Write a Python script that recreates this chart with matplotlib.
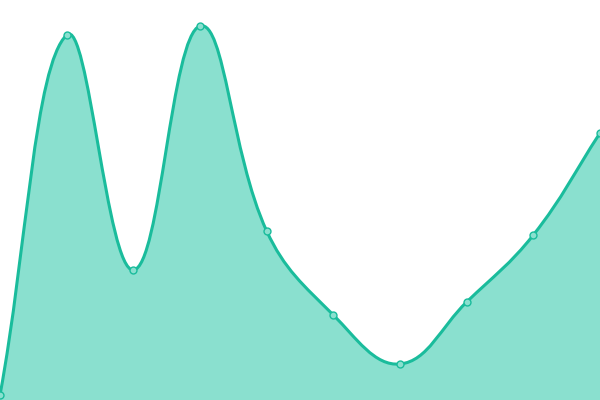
import matplotlib
matplotlib.use("Agg")
import matplotlib.pyplot as plt
from matplotlib.path import Path
from matplotlib.patches import PathPatch
import numpy as np

# values (chart units, 0..400)
labels = list(range(10))
values = [5, 365, 130, 374, 169, 85, 36, 98, 165, 267]

line_color = "#1abc9c"
fill_color = "#8ae0cf"
tension = 0.4


def spline_controls(pts, t):
    # Chart.js style control points
    n = len(pts)
    ctrl = []
    for i in range(n):
        p0 = pts[max(i - 1, 0)]
        p1 = pts[i]
        p2 = pts[min(i + 1, n - 1)]
        d01 = np.hypot(*(p1 - p0))
        d12 = np.hypot(*(p2 - p1))
        s = d01 + d12
        fa = t * d01 / s if s else 0
        fb = t * d12 / s if s else 0
        c_prev = p1 - fa * (p2 - p0)
        c_next = p1 + fb * (p2 - p0)
        ctrl.append((c_prev, c_next))
    return ctrl


fig = plt.figure(figsize=(6, 4), dpi=100)
ax = fig.add_axes([0, 0, 1, 1])
ax.set_xlim(0, 600)
ax.set_ylim(0, 400)
ax.axis("off")

xs = np.array(labels) * 600 / (len(labels) - 1)
pts = [np.array([x, y], dtype=float) for x, y in zip(xs, values)]
ctrl = spline_controls(pts, tension)

verts = [pts[0]]
codes = [Path.MOVETO]
for i in range(1, len(pts)):
    c1 = ctrl[i - 1][1].copy()
    c2 = ctrl[i][0].copy()
    c1[1] = np.clip(c1[1], 0, 400)
    c2[1] = np.clip(c2[1], 0, 400)
    verts += [c1, c2, pts[i]]
    codes += [Path.CURVE4] * 3

line_path = Path(verts, codes)
fill_verts = verts + [np.array([xs[-1], 0.0]), np.array([xs[0], 0.0]), pts[0]]
fill_codes = codes + [Path.LINETO, Path.LINETO, Path.CLOSEPOLY]
ax.add_patch(PathPatch(Path(fill_verts, fill_codes), facecolor=fill_color, edgecolor="none"))
ax.add_patch(PathPatch(line_path, facecolor="none", edgecolor=line_color, lw=2.2))

ax.plot(xs, values, "o", ms=5, mfc=fill_color, mec=line_color, mew=1, clip_on=True)

fig.savefig("out.png", dpi=100)
